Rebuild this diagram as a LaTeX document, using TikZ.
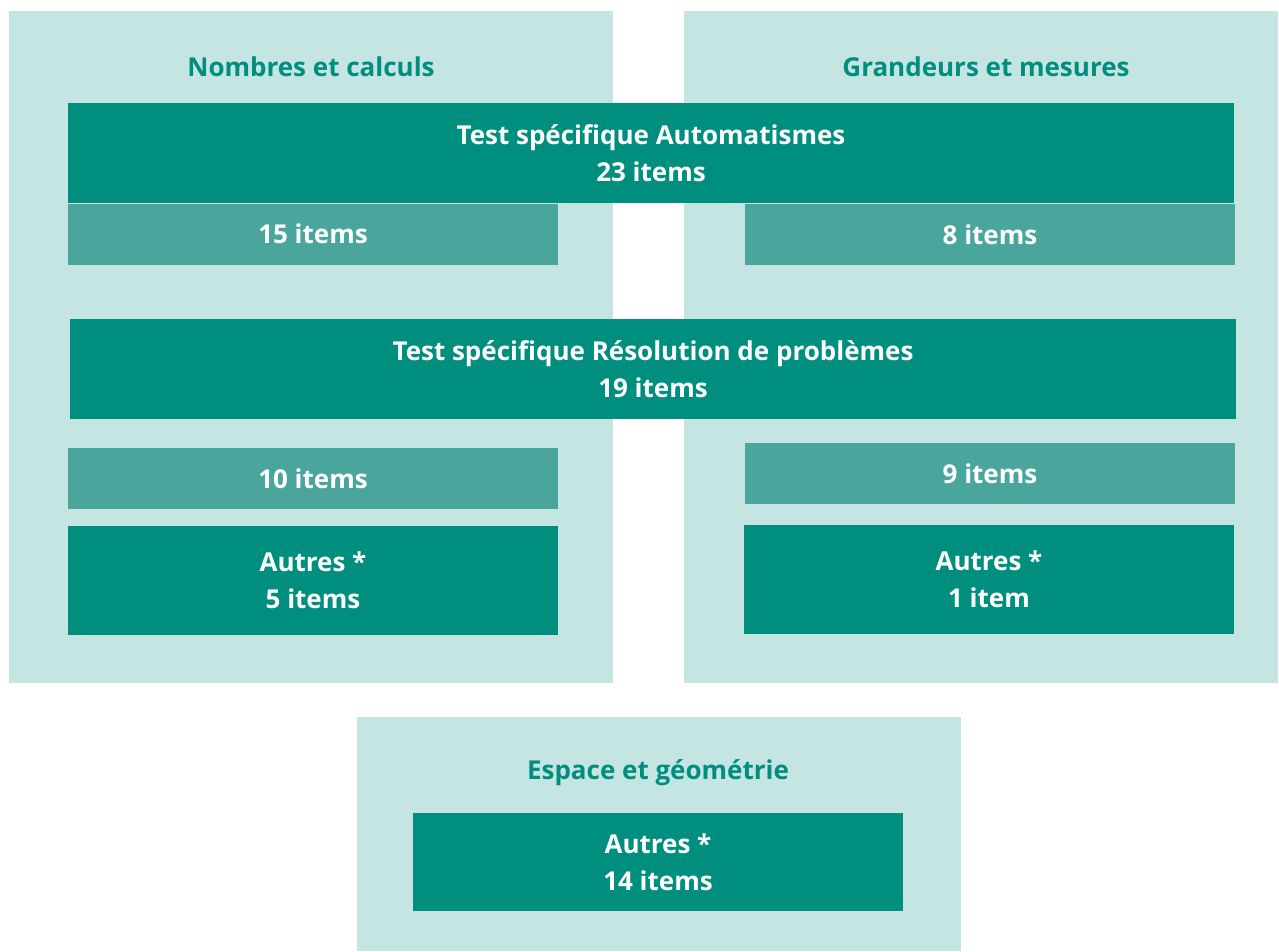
\documentclass[tikz,border=0pt]{standalone}
\usepackage{fontspec}
\setmainfont{Open Sans}[Ligatures=NoCommon]
\definecolor{tealdark}{HTML}{008F7F}
\definecolor{tealmid}{HTML}{4AA59D}
\definecolor{teallight}{HTML}{C5E5E2}
\tikzset{
  panel/.style={fill=teallight},
  heading/.style={text=tealdark, font=\fontsize{26}{37}\selectfont\bfseries},
  bigbox/.style={fill=tealdark, text=white, align=center, inner sep=0pt,
    font=\fontsize{26}{37}\selectfont\bfseries},
  subbox/.style={fill=tealmid, text=white, align=center, inner sep=0pt,
    minimum width=490pt, minimum height=61pt,
    font=\fontsize{26}{37}\selectfont\bfseries},
}
\begin{document}
\begin{tikzpicture}[x=1pt, y=-1pt]
		\useasboundingbox (0,0) rectangle (1279,951);
		
		% Blocs de domaines
		\fill[panel] (9,11) rectangle (613,683);
		\fill[panel] (684,11) rectangle (1278,683);
		\fill[panel] (357,717) rectangle (961,951);
		
		% Titres des domaines
		\node[heading] (tnombres) at (311,67) {Nombres et calculs};
		\node[heading] (tgrandeurs) at (986,67) {Grandeurs et mesures};
		\node[heading] (tespace) at (658,773) {Espace et géométrie};
		
		% Test Automatismes
		\node[bigbox, minimum width=1166pt, minimum height=100pt] (auto) at (651,153)
			{Test spécifique Automatismes\\23 items};
		\node[subbox] (auto15) at (313,234) {15 items};
		\node[subbox] (auto8) at (990,234.5) {8 items};
		
		% Test Resolution de problemes
		\node[bigbox, minimum width=1166pt, minimum height=100pt] (reso) at (653,369)
			{Test spécifique Résolution de problèmes\\19 items};
		\node[subbox] (reso10) at (313,478.5) {10 items};
		\node[subbox] (reso9) at (990,473.5) {9 items};
		
		% Autres
		\node[bigbox, minimum width=490pt, minimum height=109pt] (autresN) at (313,580.5)
			{Autres *\\5 items};
		\node[bigbox, minimum width=490pt, minimum height=109pt] (autresG) at (989,579.5)
			{Autres *\\1 item};
		\node[bigbox, minimum width=490pt, minimum height=98pt] (autresE) at (658,862)
			{Autres *\\14 items};
		
	\end{tikzpicture}
\end{document}
